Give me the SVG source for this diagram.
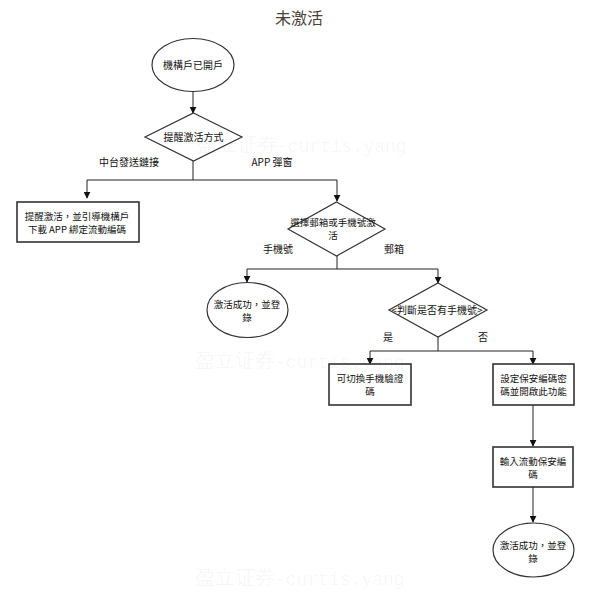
<svg xmlns="http://www.w3.org/2000/svg" width="595" height="598" viewBox="0 0 595 598">
<defs>
<marker id="arr" viewBox="0 0 10 10" refX="9" refY="5" markerWidth="7" markerHeight="7" orient="auto" markerUnits="userSpaceOnUse">
<path d="M0,0 L10,5 L0,10 z" fill="#111"/>
</marker>
<style>
text{font-family:"Noto Sans CJK TC","Noto Sans CJK SC",sans-serif;font-size:10px;fill:#111;text-anchor:middle}
.t2{font-size:9.5px}
.wm{font-family:"Noto Sans CJK SC",serif;font-size:20px;fill:#000;fill-opacity:0.045;text-anchor:start}
.wm tspan.l{font-family:"Liberation Mono",monospace;font-size:18px}
.shape{fill:#fff;stroke:#333;stroke-width:1.2}
.box{fill:#fff;stroke:#333;stroke-width:1.6}
.conn{fill:none;stroke:#222;stroke-width:1}
</style>
</defs>
<rect width="595" height="598" fill="#fff"/>
<text x="299" y="24" style="font-size:16px;fill:#4a4038">未激活</text>
<g id="connectors">
<path class="conn" d="M193,91 V113" marker-end="url(#arr)"/>
<path class="conn" d="M193,161 V180 M87,180 H337"/>
<path class="conn" d="M87,180 V198" marker-end="url(#arr)"/>
<path class="conn" d="M337,180 V201" marker-end="url(#arr)"/>
<path class="conn" d="M337,256 V269 M247,269 H438"/>
<path class="conn" d="M247,269 V282" marker-end="url(#arr)"/>
<path class="conn" d="M438,269 V283" marker-end="url(#arr)"/>
<path class="conn" d="M438,337 V351 M370,351 H533"/>
<path class="conn" d="M370,351 V364" marker-end="url(#arr)"/>
<path class="conn" d="M533,351 V364" marker-end="url(#arr)"/>
<path class="conn" d="M533,405 V446" marker-end="url(#arr)"/>
<path class="conn" d="M533,487 V522" marker-end="url(#arr)"/>
</g>
<g id="labels">
<text x="129" y="166">中台發送鏈接</text>
<text x="272" y="166">APP 彈窗</text>
<text x="278" y="253">手機號</text>
<text x="394" y="253">郵箱</text>
<text x="388" y="341">是</text>
<text x="483" y="341">否</text>
</g>
<g id="n_start">
<ellipse class="shape" cx="193" cy="65" rx="41" ry="26.5"/>
<text x="193" y="69">機構戶已開戶</text>
</g>
<g id="n_d1">
<polygon class="shape" points="193.5,113 242,137 193.5,161 145,137"/>
<text x="193.5" y="141">提醒激活方式</text>
</g>
<g id="n_box1">
<rect class="box" x="17" y="202" width="122" height="40"/>
<text class="t2" x="77" y="220">提醒激活，並引導機構戶</text>
<text class="t2" x="77" y="233">下載 APP 綁定流動編碼</text>
</g>
<g id="n_d2">
<polygon class="shape" points="336.5,202 385,229 336.5,256 288,229"/>
<text class="t2" x="333" y="226">選擇郵箱或手機號激</text>
<text class="t2" x="333" y="239">活</text>
</g>
<g id="n_ok1">
<ellipse class="shape" cx="247.5" cy="310" rx="40.5" ry="27.5"/>
<text class="t2" x="247" y="308">激活成功，並登</text>
<text class="t2" x="247" y="321">錄</text>
</g>
<g id="n_d3">
<polygon class="shape" points="438,283 487,310 438,337 389,310"/>
<text x="437" y="314">&lt;判斷是否有手機號&gt;</text>
</g>
<g id="n_box2">
<rect class="box" x="329" y="364" width="82" height="41"/>
<text class="t2" x="370" y="382">可切換手機驗證</text>
<text class="t2" x="370" y="395">碼</text>
</g>
<g id="n_box3">
<rect class="box" x="493" y="364" width="81" height="41"/>
<text class="t2" x="533.5" y="382">設定保安編碼密</text>
<text class="t2" x="533.5" y="395">碼並開啟此功能</text>
</g>
<g id="n_box4">
<rect class="box" x="493" y="447" width="80" height="40"/>
<text class="t2" x="533" y="465">輸入流動保安編</text>
<text class="t2" x="533" y="478">碼</text>
</g>
<g id="n_ok2">
<ellipse class="shape" cx="533.5" cy="550" rx="40.5" ry="27"/>
<text class="t2" x="533" y="549">激活成功，並登</text>
<text class="t2" x="533" y="562">錄</text>
</g>
<g id="watermarks">
<text class="wm" x="197" y="152">盈立证券<tspan class="l">-curtis.yang</tspan></text>
<text class="wm" x="195" y="368">盈立证券<tspan class="l">-curtis.yang</tspan></text>
<text class="wm" x="195" y="585">盈立证券<tspan class="l">-curtis.yang</tspan></text>
</g>
</svg>
